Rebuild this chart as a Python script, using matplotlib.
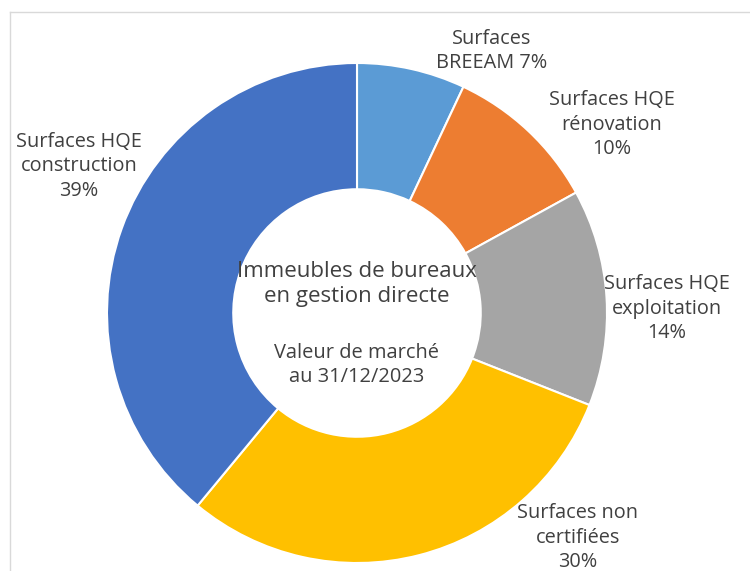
import matplotlib.pyplot as plt
from matplotlib.lines import Line2D

labels = [
    "Surfaces\nBREEAM 7%",
    "Surfaces HQE\nrénovation\n10%",
    "Surfaces HQE\nexploitation\n14%",
    "Surfaces non\ncertifiées\n30%",
    "Surfaces HQE\nconstruction\n39%",
]
shares = [7, 10, 14, 30, 39]
colors = ["#5B9BD5", "#ED7D31", "#A5A5A5", "#FFC000", "#4472C4"]
# label centres in pixels (x, y from top)
label_px = [(492, 51), (612, 125), (667, 309), (578, 538), (79, 166)]

W, H = 750, 571
CX, CY, R = 357, 313, 250

plt.rcParams["font.family"] = ["Open Sans", "DejaVu Sans"]

fig = plt.figure(figsize=(W / 100, H / 100), dpi=100)
ax = fig.add_axes([(CX - R) / W, (H - CY - R) / H, 2 * R / W, 2 * R / H])

ax.pie(
    shares,
    colors=colors,
    startangle=90,
    counterclock=False,
    radius=1,
    wedgeprops=dict(width=0.505, edgecolor="white", linewidth=1.5),
)
ax.set_xlim(-1, 1)
ax.set_ylim(-1, 1)
ax.axis("off")


def to_data(px, py):
    return (px - CX) / R, (CY - py) / R


for text, (px, py) in zip(labels, label_px):
    x, y = to_data(px, py)
    ax.text(x, y, text, ha="center", va="center", fontsize=14.3,
            color="#404040", linespacing=1.3, clip_on=False)

x, y = to_data(357, 284)
ax.text(x, y, "Immeubles de bureaux\nen gestion directe", ha="center", va="center",
        fontsize=16, color="#404040", linespacing=1.25)
x, y = to_data(357, 365)
ax.text(x, y, "Valeur de marché\nau 31/12/2023", ha="center", va="center",
        fontsize=14.4, color="#404040", linespacing=1.3)

# light frame around the chart area
fig.add_artist(Line2D([9.5 / W, 9.5 / W], [0, 1 - 12 / H], color="#D9D9D9", lw=1))
fig.add_artist(Line2D([9.5 / W, 1], [1 - 12 / H, 1 - 12 / H], color="#D9D9D9", lw=1))

fig.savefig("out.png", dpi=100)
